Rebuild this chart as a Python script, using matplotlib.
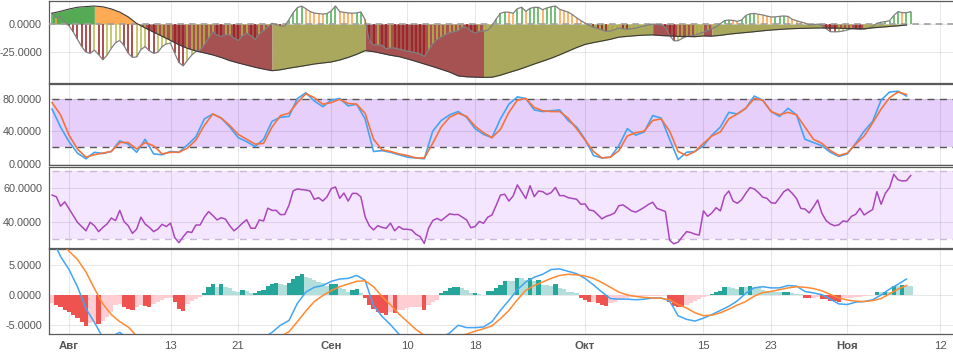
import numpy as np
import pandas as pd
import matplotlib
matplotlib.use('Agg')
import matplotlib.pyplot as plt
import matplotlib.dates as mdates
from matplotlib.ticker import FormatStrFormatter

plt.rcParams['font.family'] = ['Liberation Sans', 'DejaVu Sans']
plt.rcParams['axes.unicode_minus'] = False

# daily points, 30.07 .. 08.11
dni = pd.date_range('2018-07-30', periods=102, freq='D')
# half-day points
poldni = pd.date_range('2018-07-30', periods=204, freq='12h')

# tick dates and labels
tick_dates = ['2018-08-01', '2018-08-13', '2018-08-21', '2018-09-01', '2018-09-10', '2018-09-18',
              '2018-10-01', '2018-10-15', '2018-10-23', '2018-11-01', '2018-11-12']
tick_labels = ['Авг', '13', '21', 'Сен', '10', '18', 'Окт', '15', '23', 'Ноя', '12']
mesyacy = ['Авг', 'Сен', 'Окт', 'Ноя']

# panel 1: oscillator (half-day) and its smooth line (daily)
osc = [9.5, 5.5, 6.5, 1.5, -1.5, -7, -13.5, -20, -24.8, -25.9,
       -23, -27, -31.5, -27.5, -21.5, -16.5, -14.5, -19, -25.9, -29.5,
       -29, -22.5, -20, -23.5, -25.9, -25, -20, -17.5, -17, -26,
       -34, -37, -32, -27.5, -24.2, -22.9, -18.5, -12.5, -7, -9.7,
       -11, -9.5, -9.5, -12.5, -14.5, -10.5, -8.2, -10.2, -13.5, -9,
       -5.8, -2.5, 0.6, -0.5, -1.8, -1.8, 3.8, 10, 14.5, 15.8,
       13.5, 11, 9.6, 9.2, 8.8, 9.2, 11.5, 15.9, 10.9, 10.3,
       9.8, 9.5, 9.8, 10.6, 4, -15, -18.5, -18.5, -18.8, -22,
       -21, -21.2, -22.2, -23, -24, -24.6, -25.4, -26.5, -28.5, -23,
       -17.5, -13.8, -11.5, -9.4, -7.8, -6.8, -5.9, -2.8, -3.2, -6,
       -8, -6.6, -6.2, -5.5, -1.5, 4.5, 9.4, 10.5, 10.4, 9.4,
       13.5, 14.8, 11.2, 13.8, 14.7, 14.7, 12.6, 14.2, 15.2, 15.9,
       13, 11.7, 10.5, 8.3, 5.5, 3, 0.8, -1.2, -2.9, -4,
       -5.2, -6.5, -6.2, -5.1, -3.5, -4.2, -4.6, -4.2, -3.6, -2.4,
       -1.6, -0.8, -0.1, -0.4, -0.7, -3, -10, -14.8, -14.8, -12.6,
       -11, -10.7, -9.8, -8.4, -7.2, -5.6, -4, -2.5, 0.2, 3,
       3.5, 3.2, 2.3, 3.5, 7.5, 9, 9.3, 8.6, 8, 7,
       6.2, 6.3, 6.8, 7.1, 6.7, 4.2, 2.9, 1.8, 0.9, -0.8,
       -0.6, -0.1, -1.3, -4, -6.8, -6.9, -6.8, -6.2, -5.3, -4.2,
       -4.3, -4.7, -4.3, -3.9, -2, 0.6, 1.6, 2.1, 2.9, 7.5,
       10.9, 10, 10, 10.9]

sgl = [9.5, 11.2, 13.2, 14.8, 15.4, 15.9, 15.2, 13.3, 10.5, 6.3,
       0.5, -3.5, -7.2, -10.8, -14.5, -18.4, -21.5, -23.8, -25.5, -27.3,
       -29.6, -32.3, -34.4, -36.3, -38.2, -39.8, -41.2, -40.4, -39.0, -37.8,
       -36.6, -35.3, -34.4, -33.5, -31.8, -29.5, -26.8, -23.5, -24.4, -26.0,
       -27.6, -28.8, -30.8, -33.0, -35.3, -37.6, -40.0, -42.5, -45.8, -46.6,
       -46.9, -47.1, -47.0, -45.2, -42.8, -40.6, -38.0, -35.3, -32.8, -30.2,
       -27.2, -24.0, -20.8, -18.0, -16.4, -15.0, -13.5, -11.6, -10.9, -10.3,
       -9.8, -9.6, -10.2, -10.5, -10.9, -11.0, -11.2, -10.5, -10.7, -10.0,
       -9.0, -8.2, -7.5, -6.8, -6.0, -5.3, -4.8, -4.3, -4.0, -3.8,
       -3.6, -3.5, -3.6, -3.7, -3.9, -4.1, -4.2, -3.4, -2.8, -2.2,
       -1.6, -0.9]

# panel 2: stochastic (daily)
stoch_k = [67, 45, 27, 13, 6, 14, 12.5, 15, 28, 24,
           14, 30, 12, 11, 15, 14, 23, 33, 55, 61,
           56, 45, 32, 27, 21, 30, 52, 57, 58, 80,
           87, 77, 70, 78, 80, 71, 73, 55, 15, 16,
           14, 11, 8, 7, 6, 40, 53, 60, 64, 57,
           43, 36, 32, 55, 73, 82, 80, 66, 64, 65,
           66, 53, 45, 30, 10, 7, 8, 22, 43, 35,
           39, 59, 56, 30, 5, 14, 15, 22, 35, 45,
           63, 61, 68, 83, 78, 64, 58, 68, 60, 30,
           26, 22, 14, 9, 12, 25, 40, 52, 78, 88,
           89, 83]
stoch_d = [75, 60, 35, 18, 8, 11, 13, 15, 26, 26,
           18, 26, 22, 12, 14, 14, 19, 29, 47, 61,
           56, 47, 36, 30, 24, 25, 45, 59, 62, 75,
           86, 81, 73, 75, 79, 74, 73, 62, 30, 17,
           15, 12, 10, 7, 7, 25, 45, 57, 62, 58,
           46, 38, 32, 42, 63, 78, 80, 69, 65, 64,
           64, 56, 43, 29, 15, 7, 8, 16, 34, 38,
           40, 53, 55, 40, 15, 10, 15, 25, 34, 39,
           55, 61, 68, 80, 78, 64, 60, 63, 60, 45,
           30, 25, 16, 10, 13, 24, 34, 50, 67, 81,
           88, 85]

# panel 3: RSI (half-day)
rsi = [56, 55, 49.5, 52, 48, 44, 40, 37.5, 35, 40,
       38, 34.5, 37, 39, 42.5, 41, 47, 40.5, 38, 33.5,
       36, 43, 39, 37, 34.5, 36, 38.8, 37.5, 39.5, 31,
       28, 31.5, 34.5, 34, 38.4, 38.4, 43, 46.3, 44, 41.4,
       42.7, 41.8, 38, 35, 37, 39.5, 41.5, 36.5, 36.5, 41.4,
       40.8, 48.3, 47, 47, 44.5, 44.6, 50, 58.5, 59.6, 59.2,
       59, 58.4, 53.5, 54.5, 52.5, 55, 59.8, 60.8, 54.1, 57.2,
       52.5, 57, 57, 55, 43.3, 38, 35.5, 38, 37, 36.5,
       39.5, 35, 37.5, 35.9, 35.9, 35.5, 33, 31.6, 27.6, 36.5,
       41, 42.3, 41, 43, 45, 44.5, 44.6, 43, 41.4, 36.8,
       37.5, 40.5, 39.4, 43, 44.3, 50, 56, 56.5, 52.5, 55.5,
       62, 58, 54, 61.5, 55.1, 58.4, 58, 56.3, 57.5, 60.5,
       55.7, 55.7, 54.5, 54, 53.6, 50.6, 50.8, 47.2, 46.8, 44.5,
       42, 43.5, 44.3, 45.5, 49.8, 50.2, 48.5, 46.7, 46, 47.3,
       48.8, 50.5, 51.8, 48.2, 47.3, 46.3, 29.5, 27.3, 28.3, 31.5,
       34.5, 34, 33, 32.5, 46.7, 43.5, 45.5, 48.6, 46.7, 55.5,
       58.4, 52.5, 51.2, 53.2, 57, 60.4, 59.6, 57.5, 54.8, 54.1,
       51.5, 51.2, 54.5, 58, 59.5, 57, 54, 48.2, 47.8, 45.5,
       49, 53.1, 45.3, 41, 39, 38, 38.5, 40.8, 40.4, 43.5,
       44.7, 48.2, 44.3, 46, 47.5, 58, 50.6, 57, 60.4, 68.2,
       65, 64.3, 64.5, 67.5]

# panel 4: MACD (daily lines, half-day histogram)
macd = [9.5, 6.5, 4.3, 1.4, -2.3, -4.6, -7.2, -7.0, -6.3, -7.4,
        -8.5, -9.2, -9.8, -10.2, -10.5, -10.8, -10.6, -10.2, -9.6, -9.2,
        -9.0, -8.8, -8.6, -8.3, -7.8, -7.2, -6.3, -5.1, -4.3, -1.4,
        0.5, 1.3, 1.6, 2.3, 2.7, 2.8, 3.3, 2.5, -1.8, -3.6,
        -5.0, -6.6, -7.5, -8.0, -8.2, -7.8, -7.2, -6.4, -5.1, -5.5,
        -5.5, -5.4, -4.5, -2.6, -0.9, 0.9, 2.2, 3.0, 3.5, 4.3,
        4.4, 4.0, 3.6, 2.8, 1.7, 0.5, -0.6, -0.7, -0.7, -0.8,
        -0.7, -0.5, -0.5, -1.0, -3.5, -4.1, -4.4, -3.9, -3.3, -2.6,
        -1.9, -1.0, 0.3, 1.2, 1.4, 1.2, 1.2, 1.6, 1.5, 0.6,
        0.35, 0.05, -0.7, -1.5, -1.6, -1.2, -1.1, -0.8, 0.0, 1.0,
        1.8, 2.7]
signal = [10.2, 8.9, 7.4, 6.0, 3.9, 1.1, -1.5, -3.3, -4.5, -5.4,
          -6.9, -7.6, -8.2, -8.7, -9.1, -9.5, -9.8, -10.0, -10.0, -9.9,
          -9.7, -9.5, -9.3, -9.0, -8.7, -8.3, -7.8, -7.0, -6.2, -4.5,
          -2.7, -1.1, -0.1, 0.75, 1.4, 1.85, 2.3, 2.4, 1.4, -0.25,
          -1.65, -3.2, -4.5, -5.8, -6.8, -7.2, -7.3, -7.1, -6.9, -6.6,
          -6.1, -5.7, -5.2, -4.0, -2.6, -0.8, 0.8, 1.6, 2.2, 2.8,
          3.3, 3.5, 3.4, 3.2, 2.8, 2.1, 1.3, 0.5, 0.0, -0.25,
          -0.4, -0.5, -0.55, -0.8, -1.6, -2.2, -3.0, -3.5, -3.4, -3.0,
          -2.4, -1.7, -1.1, -0.2, 0.4, 0.6, 0.9, 1.2, 1.4, 1.3,
          1.1, 0.7, 0.1, -0.5, -0.85, -1.05, -1.1, -0.95, -0.6, 0.2,
          1.0, 1.6]
hist = [-1.4, -1.7, -2.1, -2.5, -2.8, -3.4, -3.9, -4.5, -5.3, -4.8,
        -4.6, -4.9, -4.4, -3.65, -2.8, -1.7, -1.5, -2.0, -2.3, -2.5,
        -2.0, -1.7, -1.8, -2.0, -1.6, -1.1, -0.8, -0.56, -0.5, -1.1,
        -2.4, -2.7, -1.6, -1.0, -0.6, -0.3, 0.3, 1.4, 1.8, 1.4,
        1.8, 1.4, 1.1, 0.6, 0.5, 0.84, 0.7, 0.28, 0.3, 0.67,
        0.8, 1.6, 1.8, 2.0, 1.8, 1.7, 2.0, 2.7, 3.2, 3.5,
        3.1, 2.8, 2.5, 2.2, 2.0, 1.6, 1.8, 1.85, 1.1, 1.0,
        0.56, 0.9, 0.95, 0.28, -0.45, -1.7, -2.4, -2.8, -3.1, -3.4,
        -2.8, -3.1, -2.6, -2.5, -2.2, -2.0, -2.0, -1.95, -2.5, -1.7,
        -1.2, -0.84, 0.3, 0.6, 1.1, 1.3, 1.4, 1.2, 0.84, 0.28,
        0.3, 0.1, 0.05, 0.67, 0.7, 1.2, 1.7, 2.4, 2.4, 2.35,
        2.8, 2.8, 2.5, 2.8, 2.4, 2.5, 1.7, 1.7, 1.6, 1.8,
        1.1, 1.0, 0.56, 0.5, 0.4, -0.45, -0.84, -1.1, -1.1, -1.4,
        -1.7, -1.9, -1.4, -1.2, -0.84, -0.6, -0.45, -0.4, -0.3, -0.3,
        -0.25, -0.2, -0.15, -0.1, -0.1, -0.08, -1.2, -1.8, -2.0, -2.1,
        -1.7, -1.4, -1.0, -0.7, -0.4, -0.2, 0.1, 0.56, 0.6, 1.4,
        1.4, 1.1, 1.0, 1.4, 1.4, 1.45, 1.4, 1.3, 0.84, 0.7,
        0.56, 0.5, 0.45, 0.5, 0.55, 0.28, 0.2, 0.1, -0.45, -0.5,
        -0.5, -0.28, -0.67, -0.7, -1.0, -1.05, -1.1, -0.56, -0.5, -0.45,
        -0.4, -0.3, -0.2, -0.1, -0.05, 0.45, 0.45, 0.5, 0.5, 1.6,
        1.6, 1.65, 1.6, 1.55]

xd = mdates.date2num(dni)
xh = mdates.date2num(poldni)
tx = mdates.date2num(pd.to_datetime(tick_dates))
x0 = tx[0] - 2.365
x1 = tx[0] + 104.5

osc = np.array(osc); sgl = np.array(sgl); hist = np.array(hist)

fig = plt.figure(figsize=(9.54, 3.52), dpi=100)
L = 49 / 954
W = 904 / 954
ax1 = fig.add_axes([L, 0.7651, W, 0.2330])
ax2 = fig.add_axes([L, 0.5304, W, 0.2318])
ax3 = fig.add_axes([L, 0.2946, W, 0.2318])
ax4 = fig.add_axes([L, 0.0511, W, 0.2415])


def oformit(ax, ylim, yticks):
    ax.set_xlim(x0, x1)
    ax.set_ylim(*ylim)
    ax.set_yticks(yticks)
    ax.yaxis.set_major_formatter(FormatStrFormatter('%.4f'))
    ax.set_xticks(tx)
    ax.set_xticklabels([])
    ax.tick_params(length=0, labelsize=7.8, colors='#555555', pad=5)
    for s in ['top', 'bottom', 'left']:
        ax.spines[s].set_color('#5a5a5a')
        ax.spines[s].set_linewidth(0.9)
    ax.spines['right'].set_visible(False)
    ax.grid(True, color='black', alpha=0.09, lw=0.8)
    ax.set_axisbelow(True)


# panel 1
oformit(ax1, (-51.8, 20.6), [-25, 0])
zalivka = {'gu': '#55ab55', 'gd': '#ffaa55', 'ru': '#aaa85c', 'rd': '#a65252'}
polosy = {'gu': '#4caf50', 'gd': '#ffa040', 'ru': '#b9b94a', 'rd': '#9a1c1c'}


def klass(v, dv):
    if v >= 0:
        return 'gu' if dv >= 0 else 'gd'
    return 'ru' if dv >= 0 else 'rd'


seg = [klass(sgl[i + 1], sgl[i + 1] - sgl[i]) for i in range(len(sgl) - 1)]
s = 0
for i in range(1, len(seg) + 1):
    if i == len(seg) or seg[i] != seg[s]:
        ax1.fill_between(xd[s:i + 1], 0, sgl[s:i + 1], color=zalivka[seg[s]], lw=0, zorder=1)
        s = i

d_osc = np.diff(osc, prepend=osc[0])
cols = [polosy[klass(v, dv)] for v, dv in zip(osc, d_osc)]
ax1.vlines(xh, 0, osc, colors=cols, lw=1.1, zorder=2)
ax1.axhline(0, color='#a0a0a0', ls=(0, (4, 3)), lw=1.2, zorder=3)
ax1.plot(xh, osc, color='#808080', lw=0.9, zorder=4)
ax1.plot(xd, sgl, color='#3a3a3a', lw=0.8, zorder=4)

# panel 2
oformit(ax2, (-2, 98.2), [0, 40, 80])
ax2.fill_between([xd[0], x1], 20, 80, color='#e7cffc', lw=0, zorder=0.2)
ax2.hlines([20, 80], xd[0], x1, colors='#555555', linestyles=(0, (5, 4)), lw=1, zorder=2)
ax2.plot(xd, stoch_k, color='#42a5f5', lw=1.2, zorder=3)
ax2.plot(xd, stoch_d, color='#f4733f', lw=1.2, zorder=3)

# panel 3
oformit(ax3, (24.7, 72.7), [40, 60])
ax3.fill_between([xh[0], x1], 30, 70, color='#f4e6fe', lw=0, zorder=0.2)
ax3.hlines([30, 70], xh[0], x1, colors='#c9b8d9', linestyles=(0, (5, 4)), lw=1, zorder=2)
ax3.plot(xh, rsi, color='#ab47bc', lw=1.1, zorder=3)

# panel 4
oformit(ax4, (-6.58, 7.76), [-5, 0, 5])
d_h = np.diff(hist, prepend=hist[0])
hcols = []
for v, dv in zip(hist, d_h):
    if v >= 0:
        hcols.append('#26a69a' if dv > 0 else '#b2dfdb')
    else:
        hcols.append('#ef5350' if dv < 0 else '#ffcdd2')
ax4.bar(xh, hist, width=0.5, color=hcols, lw=0, zorder=2)
ax4.plot(xd, macd, color='#42a5f5', lw=1.1, zorder=3)
ax4.plot(xd, signal, color='#ff8a33', lw=1.1, zorder=3)
ax4.set_xticklabels(tick_labels)
ax4.tick_params(axis='x', labelsize=8.2, pad=5)
for t in ax4.get_xticklabels():
    if t.get_text() in mesyacy:
        t.set_fontweight('bold')

fig.savefig('out.png', dpi=100)
